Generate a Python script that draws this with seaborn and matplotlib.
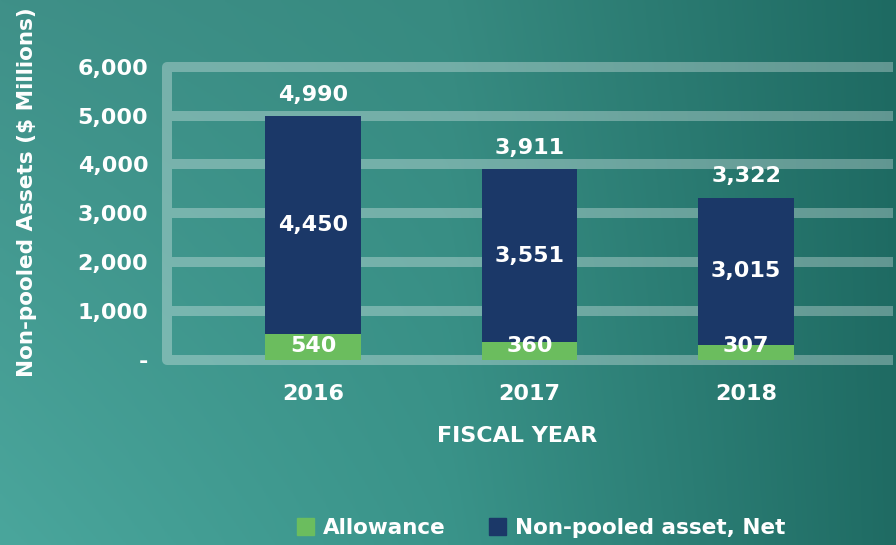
import numpy as np
import pandas as pd
import matplotlib
matplotlib.use("Agg")
import matplotlib.pyplot as plt
import seaborn as sns
from matplotlib.patches import Patch

# ===================== data =====================
years = ["2016", "2017", "2018"]
allowance = [540, 360, 307]
net_asset = [4450, 3551, 3015]
totals = [4990, 3911, 3322]
y_ticks = [0, 1000, 2000, 3000, 4000, 5000, 6000]
y_tick_labels = ["-", "1,000", "2,000", "3,000", "4,000", "5,000", "6,000"]

df = pd.DataFrame({"year": years, "allowance": allowance,
                   "net": net_asset, "total": totals})

# ===================== style =====================
sns.set_style("white")
plt.rcParams["font.family"] = ["DejaVu Sans"]
plt.rcParams["font.weight"] = "bold"

navy = "#1b3868"
green = "#6bbd5e"
band = (1, 1, 1, 0.3)
fs = 16

fig = plt.figure(figsize=(8.96, 5.45), dpi=100)

# gradient background
bg = fig.add_axes([0, 0, 1, 1], zorder=-1)
top = np.array([[63, 144, 136], [55, 138, 128], [30, 106, 98]]) / 255
bot = np.array([[74, 166, 156], [58, 148, 138], [31, 107, 99]]) / 255
nx, ny = 300, 200
xs = np.linspace(0, 1, nx)
img = np.zeros((ny, nx, 3))
for c in range(3):
    row_t = np.interp(xs, [0, 0.5, 1], top[:, c])
    row_b = np.interp(xs, [0, 0.5, 1], bot[:, c])
    w = np.linspace(0, 1, ny)[:, None]
    img[:, :, c] = row_t[None, :] * (1 - w) + row_b[None, :] * w
bg.imshow(img, aspect="auto", extent=[0, 1, 0, 1], origin="upper")
bg.axis("off")

ax = fig.add_axes([0.1864, 0.3303, 0.8103, 0.557])
ax.patch.set_alpha(0)

# stacked bars: total first (navy), allowance on top of it (green)
sns.barplot(data=df, x="year", y="total", color=navy, width=0.44,
            saturation=1, linewidth=0, ax=ax, zorder=3)
sns.barplot(data=df, x="year", y="allowance", color=green, width=0.44,
            saturation=1, linewidth=0, ax=ax, zorder=3)

xl, xr = -0.674, 2.679
ax.set_xlim(xl, xr)
ax.set_ylim(-102, 6106)

# grid bands with the rounded left frame
ax.plot([xr, xl, xl, xr], [6000, 6000, 0, 0], color=band, lw=7.2,
        solid_joinstyle="round", solid_capstyle="butt", clip_on=False, zorder=1)
ax.hlines(y_ticks[1:-1], xl + 0.023, xr, color=band, lw=7.2, zorder=1)

# value labels
for i in range(len(years)):
    ax.annotate(f"{totals[i]:,}", (i, totals[i]), xytext=(0, 8),
                textcoords="offset points", ha="center", va="bottom",
                color="white", fontsize=fs, fontweight="bold")
    ax.text(i, allowance[i] + net_asset[i] / 2, f"{net_asset[i]:,}",
            ha="center", va="center", color="white", fontsize=fs, fontweight="bold", zorder=4)
    ax.annotate(f"{allowance[i]:,}", (i, 0), xytext=(0, 6),
                textcoords="offset points", ha="center", va="baseline",
                color="white", fontsize=fs, fontweight="bold", zorder=4)

ax.set_yticks(y_ticks, y_tick_labels)
ax.tick_params(axis="y", length=0, pad=13.5, labelsize=fs, labelcolor="white")
ax.tick_params(axis="x", length=0, pad=14, labelsize=fs, labelcolor="white")
ax.set_xlabel("")
ax.set_ylabel("")
sns.despine(ax=ax, left=True, bottom=True)

fig.text(27 / 896, 1 - 192 / 545, "Non-pooled Assets ($ Millions)", rotation=90,
         ha="center", va="center", color="white", fontsize=15.5, fontweight="bold")
fig.text(517 / 896, 1 - 436 / 545, "FISCAL YEAR", ha="center", va="center",
         color="white", fontsize=fs, fontweight="bold")

handles = [Patch(color=green, label="Allowance"),
           Patch(color=navy, label="Non-pooled asset, Net")]
fig.legend(handles=handles, loc="center", bbox_to_anchor=(541 / 896, 1 - 528 / 545),
           ncol=2, frameon=False, handlelength=0.8, handleheight=0.8,
           handletextpad=0.4, columnspacing=2.0,
           prop={"size": 15.5, "weight": "bold"}, labelcolor="white")

fig.savefig("out.png", dpi=100)
